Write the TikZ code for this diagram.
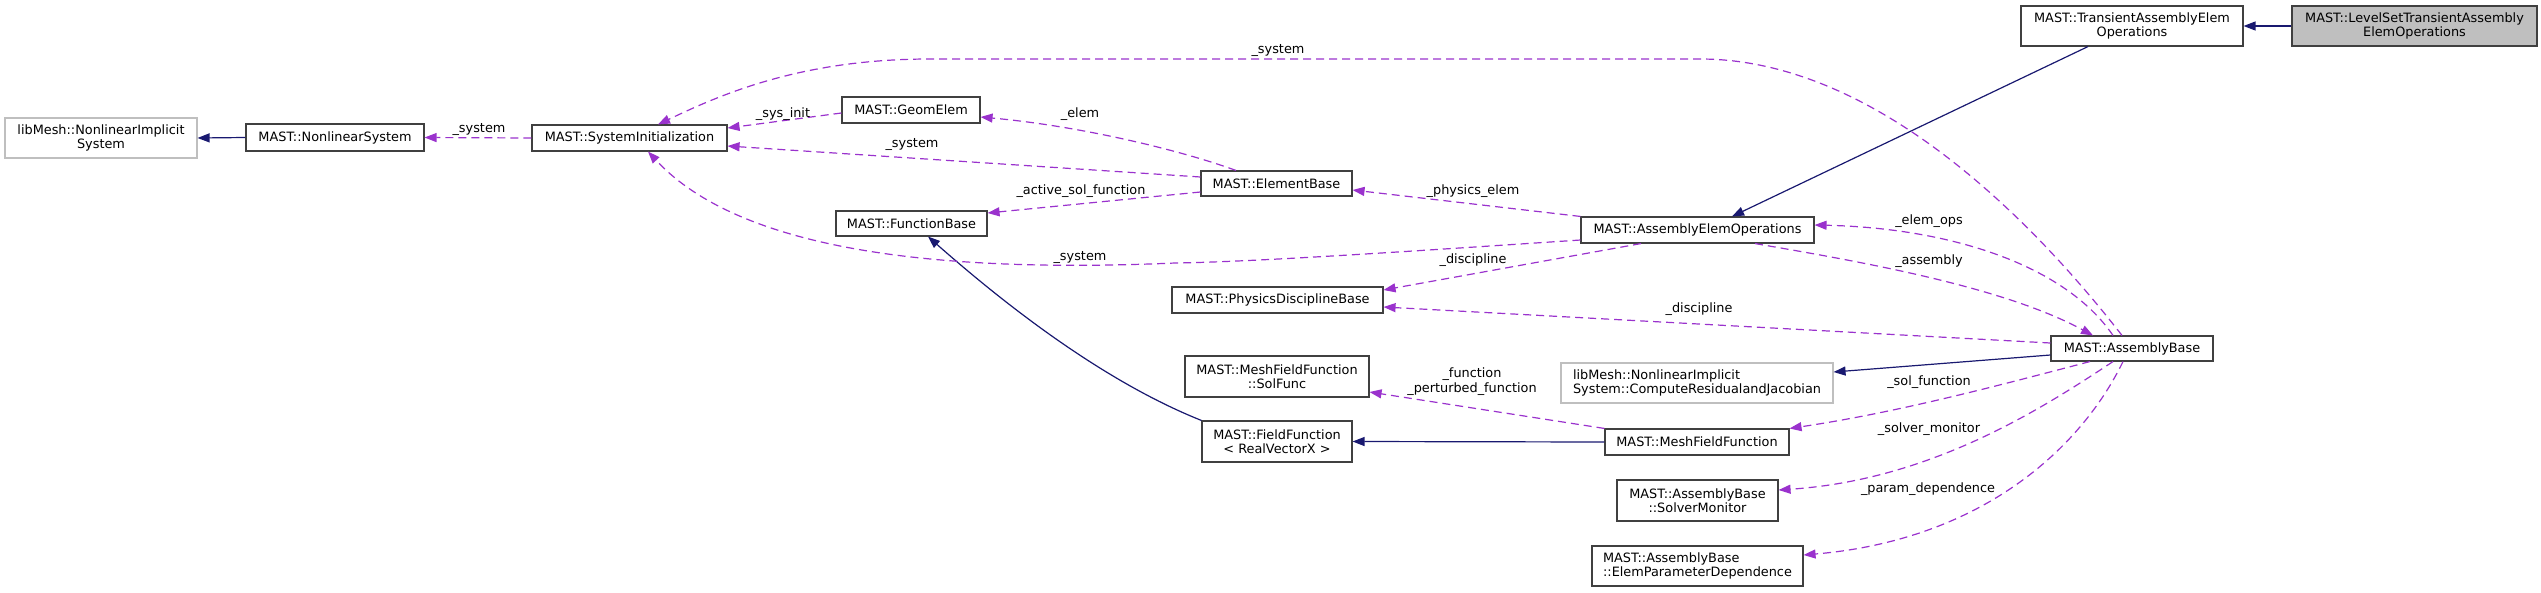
\documentclass[tikz,border=0pt]{standalone}
\usepackage{fontspec}
\setmainfont{DejaVu Sans}
\usepackage{xcolor}
\usetikzlibrary{arrows.meta}

\definecolor{edgeblue}{HTML}{191970}
\definecolor{edgeorchid}{HTML}{9A32CD}
\definecolor{extgray}{HTML}{BFBFBF}
\definecolor{boxline}{HTML}{404040}
\newcommand\dgfont{\fontsize{12.85}{14.5}\selectfont}

\begin{document}
\begin{tikzpicture}[x=1pt, y=-1pt, every node/.style={font=\dgfont},
    cls/.style={draw=boxline, line width=1.1pt, fill=white, inner sep=0pt, align=center},
    ext/.style={cls, draw=extgray},
    cur/.style={cls, fill=extgray},
    inh/.style={edgeblue, line width=1.2pt, -{Triangle[length=12pt, width=9pt]}},
    use/.style={edgeorchid, line width=1.2pt, dash pattern=on 8pt off 5pt, -{Triangle[length=12pt, width=9pt]}},
    lbl/.style={inner sep=0pt, align=center}]
    \useasboundingbox (0,0) rectangle (2541,592);
    % Left column
    \node[ext, minimum width=192pt, minimum height=40pt] (libnis) at (101,138) {libMesh::NonlinearImplicit\\System};
    \node[cls, minimum width=178pt, minimum height=27pt] (nlsys) at (335,137.5) {MAST::NonlinearSystem};
    \node[cls, minimum width=195pt, minimum height=26pt] (sysinit) at (629.5,138) {MAST::SystemInitialization};
    \node[cls, minimum width=138pt, minimum height=26pt] (geom) at (911,110) {MAST::GeomElem};
    \node[cls, minimum width=151pt, minimum height=25pt] (funcbase) at (911.5,223.5) {MAST::FunctionBase};
    % Middle column
    \node[cls, minimum width=151pt, minimum height=25pt] (elembase) at (1276.5,183.5) {MAST::ElementBase};
    \node[cls, minimum width=211pt, minimum height=26pt] (physdisc) at (1277.5,300) {MAST::PhysicsDisciplineBase};
    \node[cls, minimum width=184pt, minimum height=41pt] (solfunc) at (1277,376.5) {MAST::MeshFieldFunction\\::SolFunc};
    \node[cls, minimum width=150pt, minimum height=41pt] (fieldfunc) at (1277,441.5) {MAST::FieldFunction\\< RealVectorX >};
    % Right column
    \node[cls, minimum width=233pt, minimum height=26pt] (aeo) at (1697.5,230) {MAST::AssemblyElemOperations};
    \node[ext, minimum width=272pt, minimum height=40pt, align=left] (crj) at (1697,383) {libMesh::NonlinearImplicit\\System::ComputeResidualandJacobian};
    \node[cls, minimum width=184pt, minimum height=26pt] (meshff) at (1697,442) {MAST::MeshFieldFunction};
    \node[cls, minimum width=161pt, minimum height=41pt] (solvmon) at (1697.5,500.5) {MAST::AssemblyBase\\::SolverMonitor};
    \node[cls, minimum width=211pt, minimum height=40pt, align=left] (epd) at (1697.5,566) {MAST::AssemblyBase\\::ElemParameterDependence};
    \node[cls, minimum width=162pt, minimum height=25pt] (asmbase) at (2132,348.5) {MAST::AssemblyBase};
    \node[cls, minimum width=222pt, minimum height=40pt] (taeo) at (2132,26) {MAST::TransientAssemblyElem\\Operations};
    \node[cur, minimum width=245pt, minimum height=40pt] (lsaeo) at (2414.5,26) {MAST::LevelSetTransientAssembly\\ElemOperations};

    % Inheritance
    \draw[inh] (nlsys.west) -- (libnis.east);
    \draw[inh] (lsaeo.west) -- (taeo.east);
    \draw[inh] ([xshift=-44pt]taeo.south) -- ([xshift=34.5pt]aeo.north);
    \draw[inh] (meshff.west) -- (fieldfunc.east);
    \draw[inh] (fieldfunc.north west) .. controls (1100,380) and (1000,300) .. ([xshift=16.5pt]funcbase.south);
    \draw[inh] ([yshift=-6.5pt]asmbase.west) -- ([yshift=11pt]crj.east);

    % Usage
    \draw[use] (sysinit.west) -- (nlsys.east);
    \draw[use] ([yshift=-3pt]geom.west) -- ([yshift=10pt]sysinit.east);
    \draw[use] ([xshift=-40.5pt]elembase.north) .. controls (1180,150) and (1080,126) .. ([yshift=-7pt]geom.east);
    \draw[use] ([yshift=6.5pt]elembase.west) -- ([yshift=-8pt]sysinit.east);
    \draw[use] ([yshift=-8.5pt]elembase.west) -- ([yshift=10.5pt]funcbase.east);
    \draw[use] (aeo.north west) -- ([yshift=-6.5pt]elembase.east);
    \draw[use] ([xshift=-56.5pt]aeo.south) -- ([yshift=10pt]physdisc.east);
    \draw[use] ([yshift=-10pt]aeo.west) .. controls (1400,252) and (1250,262) .. (1175,263)
        .. controls (900,275) and (730,240) .. ([xshift=18.5pt]sysinit.south);
    \draw[use] ([xshift=57.5pt]aeo.south) .. controls (1850,260) and (2000,285) .. ([xshift=-39pt]asmbase.north);
    \draw[use] ([xshift=-19pt]asmbase.north) .. controls (2065,265) and (1950,228) .. ([yshift=5pt]aeo.east);
    \draw[use] ([xshift=-10pt]asmbase.north) .. controls (2040,230) and (1880,59) .. (1700,59) -- (930,59)
        .. controls (800,59) and (720,95) .. ([xshift=28.5pt]sysinit.north);
    \draw[use] ([yshift=5.5pt]asmbase.west) -- ([yshift=-7pt]physdisc.east);
    \draw[use] ([xshift=-42pt]asmbase.south) .. controls (2000,385) and (1900,412) .. (meshff.north east);
    \draw[use] ([xshift=-19pt]asmbase.south) .. controls (2040,410) and (1930,480) .. ([yshift=10.5pt]solvmon.east);
    \draw[use] ([xshift=-9pt]asmbase.south) .. controls (2080,450) and (1980,540) .. ([yshift=11pt]epd.east);
    \draw[use] (meshff.north west) -- ([yshift=-15.5pt]solfunc.east);

    % Labels
    \node[lbl] (lsys1) at (479,130) {\_system};
    \node[lbl] (lsysinit) at (783,114) {\_sys\_init};
    \node[lbl] (lsys2) at (1278,51) {\_system};
    \node[lbl] (lsys3) at (912,145) {\_system};
    \node[lbl] (lelem) at (1080,114) {\_elem};
    \node[lbl] (lactive) at (1081,191) {\_active\_sol\_function};
    \node[lbl] (lphys) at (1473,191) {\_physics\_elem};
    \node[lbl] (lsys4) at (1080,257) {\_system};
    \node[lbl] (ldisc1) at (1473,260) {\_discipline};
    \node[lbl] (ldisc2) at (1699,309) {\_discipline};
    \node[lbl] (lelemops) at (1929,221) {\_elem\_ops};
    \node[lbl] (lasm) at (1929,261) {\_assembly};
    \node[lbl] (lfunc) at (1472,381.5) {\_function\\\_perturbed\_function};
    \node[lbl] (lsolfunc) at (1929,382) {\_sol\_function};
    \node[lbl] (lsolvmon) at (1929,429) {\_solver\_monitor};
    \node[lbl] (lparam) at (1928,489) {\_param\_dependence};
\end{tikzpicture}
\end{document}
